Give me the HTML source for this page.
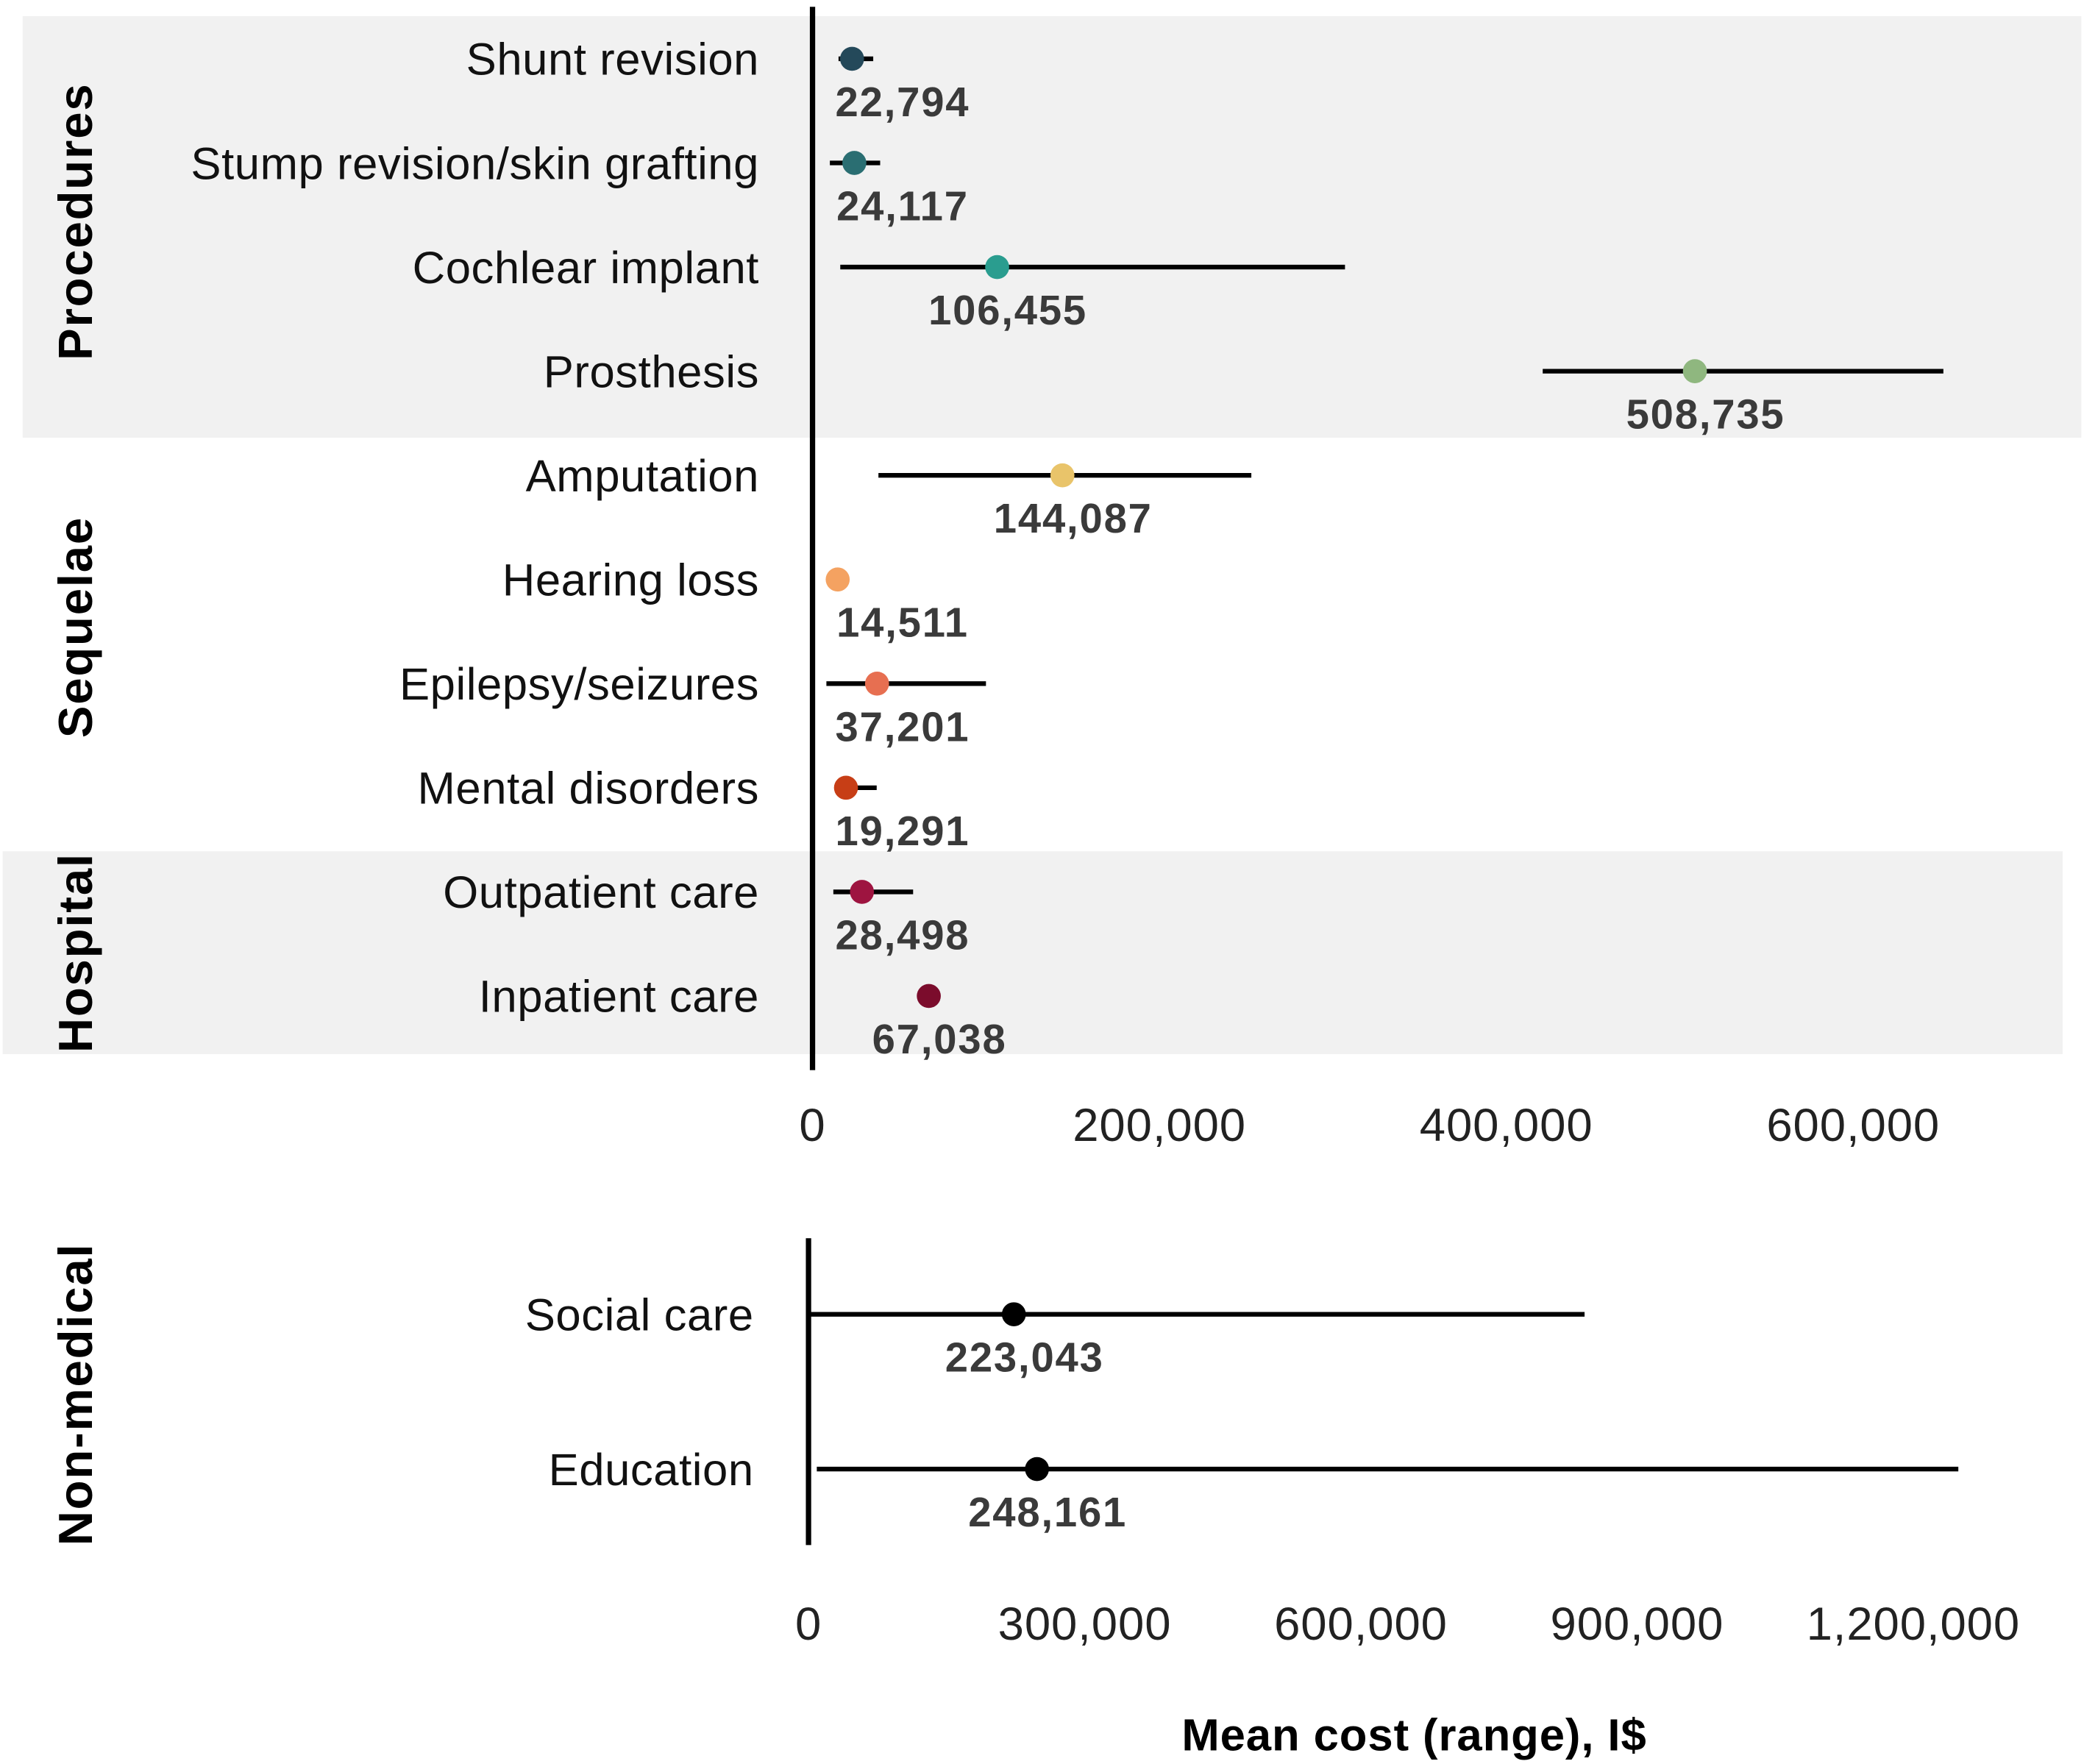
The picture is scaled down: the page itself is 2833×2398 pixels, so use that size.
<!DOCTYPE html>
<html><head><meta charset="utf-8"><style>
html,body{margin:0;padding:0;background:#fff}
svg{display:block;font-family:"Liberation Sans",sans-serif}
</style></head><body>
<svg id="chart" width="2833" height="2398" viewBox="0 0 1562 1322" xmlns="http://www.w3.org/2000/svg">
<rect x="17" y="12" width="1543" height="316" fill="#f1f1f1"/>
<rect x="2" y="638" width="1544" height="152" fill="#f1f1f1"/>
<g id="top"></g>
<g id="bottom"></g>
<text transform="translate(69,166) rotate(-90)" text-anchor="middle" font-size="36" font-weight="bold" letter-spacing="1">Procedures</text>
<text transform="translate(69,470) rotate(-90)" text-anchor="middle" font-size="36" font-weight="bold" letter-spacing="1">Sequelae</text>
<text transform="translate(69,714) rotate(-90)" text-anchor="middle" font-size="36" font-weight="bold" letter-spacing="1">Hospital</text>
<text transform="translate(69,1045) rotate(-90)" text-anchor="middle" font-size="36" font-weight="bold" letter-spacing="1">Non-medical</text>
<text x="1060" y="1312" text-anchor="middle" font-size="34" font-weight="bold" letter-spacing="0.5">Mean cost (range), I$</text>
</svg>
<script>
const topCats=["Shunt revision","Stump revision/skin grafting","Cochlear implant","Prosthesis","Amputation","Hearing loss","Epilepsy/seizures","Mental disorders","Outpatient care","Inpatient care"];
const topMeans=[22794,24117,106455,508735,144087,14511,37201,19291,28498,67038];
const topLows=[15000,10000,16000,421000,38000,9000,8000,14000,12000,63000];
const topHighs=[35000,39000,307000,652000,253000,16000,100000,37000,58000,73000];
const topColors=["#24495a","#2a6e72","#2a9d8f","#8fb77f","#e9c46a","#f4a261","#e76f51","#c73e16","#9e1440","#7b0c2c"];
const topTicks=[0,200000,400000,600000];
const botCats=["Social care","Education"];
const botMeans=[223043,248161];
const botLows=[0,9000];
const botHighs=[843000,1249000];
const botTicks=[0,300000,600000,900000,1200000];
const NS="http://www.w3.org/2000/svg";
const fmt=v=>v.toLocaleString("en-US");
function mk(p,tag,attrs,txt){const e=document.createElementNS(NS,tag);for(const k in attrs)e.setAttribute(k,attrs[k]);if(txt!=null)e.textContent=txt;p.appendChild(e);return e;}
function draw(g,cats,means,lows,highs,colors,ticks,x,y,axisX,axisTop,axisBot,tickY,labelX,prefix){
  const ax=mk(g,"line",{x1:axisX,x2:axisX,y1:axisTop,y2:axisBot,stroke:"#000","stroke-width":4});
  
  
  ticks.forEach(t=>{
    const e=mk(g,"text",{x:x(t),y:tickY,"text-anchor":"middle","font-size":35,fill:"#222","letter-spacing":"0.5"},fmt(t));
    
    
  });
  cats.forEach((c,i)=>{
    const yy=y(i);
    const l=mk(g,"text",{x:labelX,y:yy+12,"text-anchor":"end","font-size":34,fill:"#111","letter-spacing":"0.3"},c);
    
    
    const r=mk(g,"line",{x1:x(lows[i]),x2:x(highs[i]),y1:yy,y2:yy,stroke:"#000","stroke-width":3.5});
    
    
    const d=mk(g,"circle",{cx:x(means[i]),cy:yy,r:9,fill:colors?colors[i]:"#000"});
    
    
    const txt=fmt(means[i]);
    const w=txt.length*18.5;
    let cx=x(means[i])+8;
    if(cx-w/2<621)cx=621+w/2;
    const v=mk(g,"text",{x:cx,y:yy+43,"text-anchor":"middle","font-size":31,"font-weight":"bold",fill:"#3a3a3a","letter-spacing":"1"},txt);
    
    
  });
}
const xTop=v=>609+v*0.0013;
const yTop=i=>44+i*78.05;
draw(document.getElementById("top"),topCats,topMeans,topLows,topHighs,topColors,topTicks,xTop,yTop,609,5,802,855,569,"top");
const xBot=v=>606+v*0.00069;
const yBot=i=>985+i*116;
draw(document.getElementById("bottom"),botCats,botMeans,botLows,botHighs,null,botTicks,xBot,yBot,606,928,1158,1229,565,"bottom");
</script>
</body></html>
